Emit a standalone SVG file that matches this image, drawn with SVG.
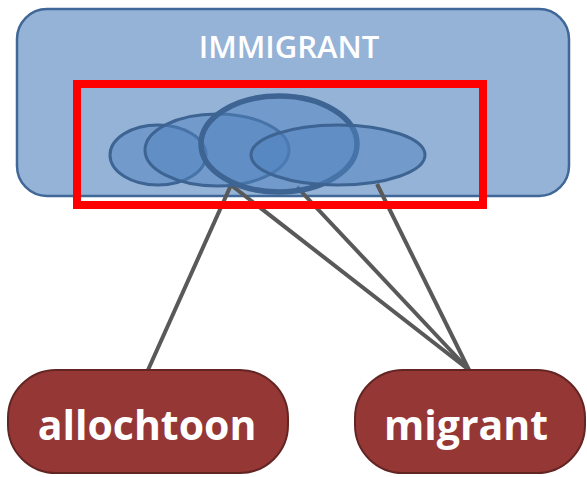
<svg xmlns="http://www.w3.org/2000/svg" width="587" height="477" viewBox="0 0 587 477">
  <style>
    .frame { fill: #95b3d7; stroke: #3f6797; stroke-width: 2.5; }
    .blob { fill: #4f81bd; fill-opacity: 0.5; stroke: #3d6492; stroke-width: 3; }
    .blob-main { stroke-width: 5.5; }
    .link { stroke: #595959; stroke-width: 4; fill: none; }
    .highlight { fill: none; stroke: #ff0000; stroke-width: 8; }
    .term { fill: #953735; stroke: #632523; stroke-width: 2; }
    .title { font-family: "Open Sans", "Liberation Sans", sans-serif; font-weight: 600; font-size: 31px; fill: #ffffff; text-anchor: middle; }
    .label { font-family: "Open Sans", "Liberation Sans", sans-serif; font-weight: 700; font-size: 41px; fill: #ffffff; text-anchor: middle; }
  </style>

  <g id="immigrant">
    <rect class="frame" x="17" y="9" width="552" height="187" rx="30" ry="30"/>
    <text class="title" x="289" y="58">IMMIGRANT</text>
  </g>

  <g id="connectors">
    <line class="link" x1="231" y1="185" x2="148" y2="370"/>
    <line class="link" x1="231" y1="185" x2="469" y2="370"/>
    <line class="link" x1="297" y1="187" x2="469" y2="370"/>
    <line class="link" x1="377" y1="184" x2="469" y2="370"/>
  </g>

  <g id="overlap">
    <ellipse class="blob" cx="158" cy="155" rx="48" ry="30"/>
    <ellipse class="blob" cx="217" cy="150" rx="72" ry="36"/>
    <ellipse class="blob blob-main" cx="279" cy="144" rx="78" ry="48"/>
    <ellipse class="blob" cx="338" cy="155" rx="87" ry="30"/>
  </g>

  <g id="highlight">
    <rect class="highlight" x="77" y="84" width="406" height="121"/>
  </g>

  <g id="allochtoon">
    <rect class="term" x="8" y="370" width="280" height="103" rx="48" ry="48"/>
    <text class="label" x="147" y="440">allochtoon</text>
  </g>

  <g id="migrant">
    <rect class="term" x="355" y="370" width="230" height="103" rx="48" ry="48"/>
    <text class="label" x="466" y="440">migrant</text>
  </g>
</svg>
